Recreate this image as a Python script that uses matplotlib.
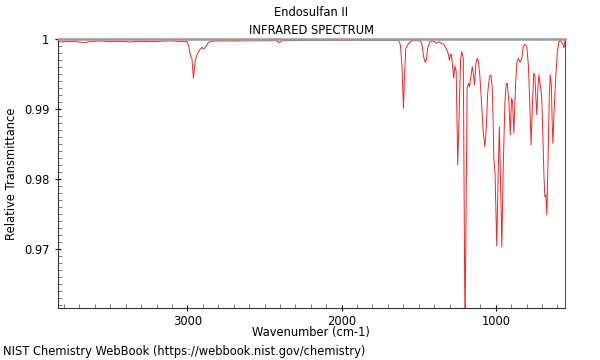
import numpy as np
import matplotlib
matplotlib.use('Agg')
import matplotlib.pyplot as plt
from matplotlib.ticker import MultipleLocator, FormatStrFormatter

# spectrum (wavenumber in cm-1, relative transmittance)
wavenumber = [3840, 3788, 3736, 3675, 3632, 3567, 3502, 3437, 3372, 3307, 3242, 3177, 3112, 3060, 3021,
              3004, 2994, 2978, 2971, 2961, 2950, 2939, 2922, 2906, 2896, 2885, 2864, 2831,
              2723, 2593, 2463, 2424, 2403, 2385, 2268, 2073, 1879, 1684, 1630,
              1619, 1608, 1599, 1592, 1584, 1565, 1543, 1489, 1478, 1468, 1458, 1450, 1442, 1429,
              1413, 1398, 1386, 1370, 1355, 1338, 1322, 1309, 1301, 1294, 1288, 1281, 1273, 1266,
              1257, 1247, 1236, 1228, 1221, 1211, 1200, 1186, 1177, 1171, 1160, 1153, 1147, 1138,
              1130, 1121, 1112, 1104, 1093, 1082, 1071, 1062, 1052, 1041, 1032, 1023, 1017, 1013,
              1005, 994, 984, 977, 971, 961, 952, 941, 932, 926, 915, 906, 898, 891, 883, 872,
              863, 854, 843, 832, 822, 812, 799, 789, 780, 771, 762, 754, 747, 740, 734, 727,
              721, 712, 703, 695, 688, 682, 675, 669, 660, 653, 647, 640, 634, 630, 623, 612,
              601, 591, 578, 567, 558, 550]
transmittance = [0.99962, 0.99966, 0.99972, 0.99952, 0.99966, 0.99978, 0.99966, 0.99972, 0.99962, 0.99972,
                 0.99966, 0.99972, 0.99978, 0.99972, 0.99966,
                 0.9997, 0.99919, 0.99751, 0.99729, 0.99443, 0.9968, 0.99776, 0.99847, 0.99886, 0.99861,
                 0.9988, 0.99957, 0.99976,
                 0.99976, 0.99979, 0.9998, 0.9998, 0.99951, 0.9998, 0.99983, 0.99986, 0.99986, 0.99983, 0.99983,
                 0.99919, 0.9959, 0.99014, 0.9949, 0.99871, 0.99943, 0.9998, 0.9998, 0.99919, 0.99751,
                 0.99671, 0.99704, 0.99871, 0.99957,
                 0.9998, 0.99966, 0.99943, 0.99966, 0.99943, 0.99929, 0.99871, 0.998, 0.99704, 0.99776,
                 0.99786, 0.99633, 0.99443, 0.99623,
                 0.99537, 0.98204, 0.99109, 0.99729, 0.99823, 0.99729, 0.958, 0.993, 0.99371, 0.99323,
                 0.9949, 0.99609, 0.99537, 0.99347,
                 0.99633, 0.99729, 0.9968, 0.9949, 0.99109, 0.9868, 0.98466, 0.98729, 0.99251, 0.99466,
                 0.9949, 0.993, 0.98776, 0.98304,
                 0.9809, 0.97047, 0.98157, 0.98747, 0.98133, 0.97033, 0.98157, 0.99109, 0.99371, 0.99371,
                 0.99109, 0.98633, 0.99157, 0.99109, 0.98657, 0.99347,
                 0.9968, 0.99729, 0.99671, 0.99719, 0.99894, 0.99929, 0.99894, 0.99633, 0.99109, 0.9849,
                 0.99109, 0.99514, 0.9949, 0.99157, 0.98919, 0.993,
                 0.9949, 0.99347, 0.99204, 0.98633, 0.98061, 0.97751, 0.97776, 0.9749, 0.98394, 0.99204,
                 0.9949, 0.99347, 0.98776, 0.98514, 0.98919, 0.99443,
                 0.99823, 0.99966, 0.99976, 0.99943, 0.9988, 0.9999]

compound = 'Endosulfan II'
subtitle = 'INFRARED SPECTRUM'
footer = 'NIST Chemistry WebBook (https://webbook.nist.gov/chemistry)'

plt.rcParams['font.family'] = 'DejaVu Sans'
plt.rcParams['font.size'] = 8.3

fig = plt.figure(figsize=(6, 3.6), dpi=100)
ax = fig.add_axes([0.096, 0.1436, 0.846, 0.7472])

ax.plot(wavenumber, transmittance, color='#ff2020', linewidth=0.7)

ax.set_xlim(3842, 550)
ax.set_ylim(0.96157, 1.0)

ax.xaxis.set_major_locator(MultipleLocator(1000))
ax.xaxis.set_minor_locator(MultipleLocator(100))
ax.yaxis.set_major_locator(MultipleLocator(0.01))
ax.yaxis.set_minor_locator(MultipleLocator(0.001))
ax.yaxis.set_major_formatter(FormatStrFormatter('%g'))

ax.tick_params(which='major', direction='inout', length=5, width=0.8, top=False, right=False)
ax.tick_params(which='minor', direction='in', length=3, width=0.6, colors='#666666', top=False, right=False)
ax.tick_params(axis='x', which='major', pad=2)

ax.spines['top'].set_color('#999999')
ax.spines['top'].set_linewidth(1.8)
ax.spines['right'].set_color('#555555')
ax.spines['left'].set_color('#333333')
ax.spines['bottom'].set_color('#333333')

ax.set_xlabel('Wavenumber (cm-1)', labelpad=-1)
ax.set_ylabel('Relative Transmittance', labelpad=4)

# two title lines, spaced like the reference
x_mid = 0.096 + 0.846 / 2
fig.text(x_mid, 1 - 12 / 360, compound, ha='center', va='center')
fig.text(x_mid, 1 - 30 / 360, subtitle, ha='center', va='center')

fig.text(0.005, 1 - 352 / 360, footer, va='center')

fig.savefig('out.png', dpi=100)
